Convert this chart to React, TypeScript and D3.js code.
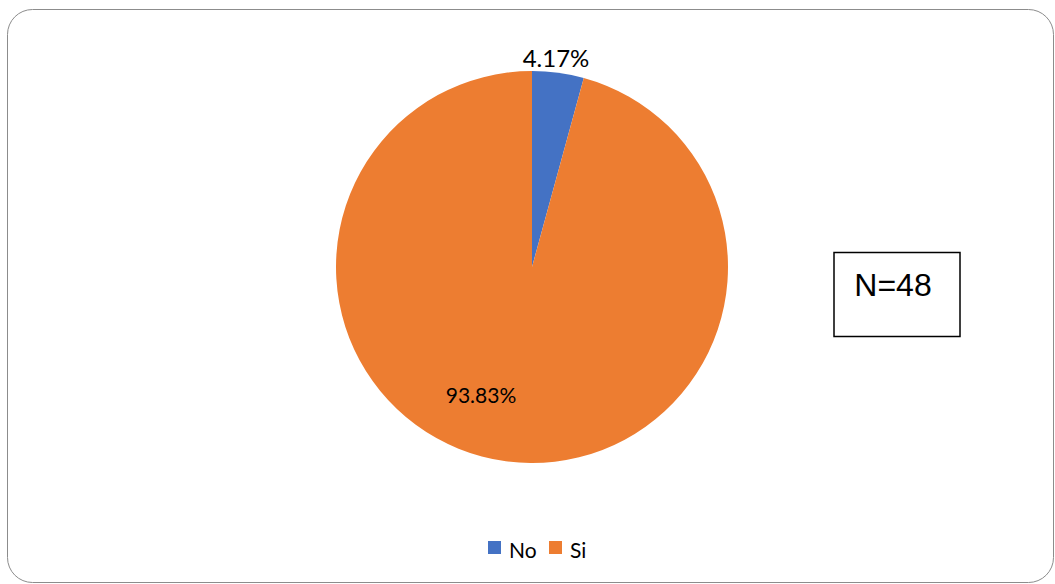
import React from "react";
import * as d3 from "d3";

const categories = ["No", "Si"];
const values = [4.17, 93.83];
const labels = ["4.17%", "93.83%"];
const colors = ["#4472C4", "#ED7D31"];
const note = "N=48";

export default function App() {
  const W = 1055, H = 584;
  const cx = 532, cy = 267, r = 196;
  const pie = d3.pie<number>().sort(null).value((d) => d);
  const arcs = pie(values);
  const arcGen = d3.arc<d3.PieArcDatum<number>>().innerRadius(0).outerRadius(r);
  const font = "Lato, 'Open Sans', sans-serif";
  return (
    <svg width={W} height={H} style={{ position: "absolute", left: 0, top: 0 }}>
      <rect x={7.5} y={9.5} width={1046} height={573} rx={25} ry={25} fill="#fff" stroke="#8c8c8c" strokeWidth={1} />
      <g transform={`translate(${cx},${cy})`}>
        {arcs.map((a, i) => (
          <path key={categories[i]} d={arcGen(a) || ""} fill={colors[i]} />
        ))}
      </g>
      <text x={556} y={67} textAnchor="middle" fontFamily={font} fontSize={24} fill="#000">{labels[0]}</text>
      <text x={481} y={403} textAnchor="middle" fontFamily={font} fontSize={21} fill="#000">{labels[1]}</text>
      <rect x={834} y={252.5} width={126} height={84} fill="#fff" stroke="#000" strokeWidth={1.5} />
      <text x={893} y={296} textAnchor="middle" fontFamily="'Liberation Sans', Arial, sans-serif" fontSize={32} fill="#000">{note}</text>
      {categories.map((c, i) => {
        const x0 = [488, 549][i];
        return (
          <g key={c}>
            <rect x={x0} y={541} width={13} height={13} fill={colors[i]} />
            <text x={x0 + 21} y={558} fontFamily={font} fontSize={21} fill="#000">{c}</text>
          </g>
        );
      })}
    </svg>
  );
}
